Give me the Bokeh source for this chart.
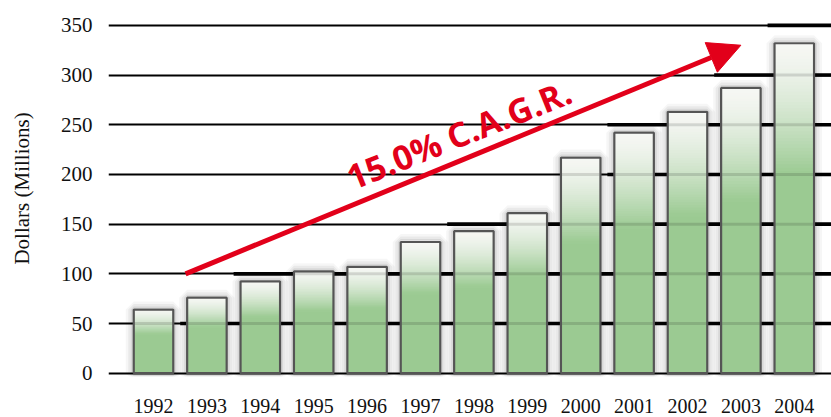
from bokeh.plotting import figure
from bokeh.models import Range1d, FixedTicker, Arrow, NormalHead, Label
from bokeh.embed import file_html
from bokeh.resources import INLINE

# Annual revenue, millions of dollars
years = [1992, 1993, 1994, 1995, 1996, 1997, 1998, 1999, 2000, 2001, 2002, 2003, 2004]
revenue = [64, 76, 92.5, 102.5, 107, 132, 143, 161, 217, 242, 263, 287, 332]
y_ticks = [0, 50, 100, 150, 200, 250, 300, 350]

# Growth annotation
cagr_label = "15.0% C.A.G.R."
arrow_x = [1992.6, 2003.0]
arrow_y = [100, 330]
label_x, label_y = 1997.72, 240.5

# Heavier gridline stretches begin at the gap before these years
heavy_from = {50: 1993, 100: 1994, 150: 1998, 200: 2001, 250: 2001, 300: 2003, 350: 2004}

RED = "#e2001a"
GREEN = (155, 202, 146)
PALE = (246, 247, 244)
BAR_W = 0.74
X0, X1 = 1991.157, 2004.697

p = figure(width=831, height=417, x_range=Range1d(X0, X1), y_range=Range1d(-3.3, 375.0),
           output_backend="svg", toolbar_location=None,
           min_border_left=108, min_border_right=0, min_border_top=0, min_border_bottom=41)
p.outline_line_color = None
p.background_fill_color = "white"
p.border_fill_color = "white"

# axes
p.xaxis.ticker = FixedTicker(ticks=years)
p.yaxis.ticker = FixedTicker(ticks=y_ticks)
for ax in (p.xaxis[0], p.yaxis[0]):
    ax.axis_line_color = None
    ax.major_tick_line_color = None
    ax.minor_tick_line_color = None
    ax.major_label_text_font = "Liberation Serif"
    ax.major_label_text_color = "#111111"
p.xaxis.major_label_text_font_size = "20px"
p.xaxis.major_label_standoff = 16
p.yaxis.major_label_text_font_size = "21px"
p.yaxis.major_label_standoff = 10
p.yaxis.axis_label = "Dollars (Millions)"
p.yaxis.axis_label_text_font = "Liberation Serif"
p.yaxis.axis_label_text_font_size = "21px"
p.yaxis.axis_label_text_font_style = "normal"
p.yaxis.axis_label_text_color = "#111111"
p.yaxis.axis_label_standoff = 24

# grid
p.xgrid.grid_line_color = None
p.ygrid.ticker = FixedTicker(ticks=y_ticks)
p.ygrid.grid_line_color = "black"
p.ygrid.grid_line_width = 1.8

hx0, hx1, hy = [], [], []
for lvl, yr in heavy_from.items():
    hx0.append(yr - 0.5)
    hx1.append(X1)
    hy.append(lvl)
p.segment(x0=hx0, x1=hx1, y0=hy, y1=hy, line_color="black", line_width=3.6)

# soft shadow around the bars
for w, a in [(16, 0.035), (11, 0.05), (6, 0.07)]:
    p.vbar(x=years, top=revenue, bottom=0, width=BAR_W, fill_color=None,
           line_color="black", line_alpha=a, line_width=w)

# bars: solid green body with a pale-to-green fade over the upper 40 %
FADE = 0.40
N = 40
L, R, T, B, C = [], [], [], [], []
for yr, v in zip(years, revenue):
    depth = v * FADE
    L.append(yr - BAR_W / 2); R.append(yr + BAR_W / 2)
    T.append(v - depth + 1.0); B.append(0)
    C.append("#%02x%02x%02x" % GREEN)
    for k in range(N):
        t = ((k + 0.5) / N) ** 1.5
        col = tuple(round(PALE[i] + (GREEN[i] - PALE[i]) * t) for i in range(3))
        L.append(yr - BAR_W / 2); R.append(yr + BAR_W / 2)
        T.append(v - depth * k / N + 1.0)
        B.append(v - depth * (k + 1) / N)
        C.append("#%02x%02x%02x" % col)
p.quad(left=L, right=R, top=T, bottom=B, fill_color=C, line_color=None)

# mask the slight overshoot above each bar, then outline
p.vbar(x=years, top=[v + 1.2 for v in revenue], bottom=revenue, width=BAR_W + 0.02,
       fill_color="white", line_color=None)
p.vbar(x=years, top=revenue, bottom=0, width=BAR_W, fill_color=None,
       line_color="#555555", line_width=2.2)

# faint gridline traces seen through the bars
gx0, gx1, gy = [], [], []
for yr, v in zip(years, revenue):
    for lvl in y_ticks[1:]:
        if lvl < v:
            gx0.append(yr - BAR_W / 2 + 0.02); gx1.append(yr + BAR_W / 2 - 0.02); gy.append(lvl)
p.segment(x0=gx0, x1=gx1, y0=gy, y1=gy, line_color="black", line_alpha=0.13, line_width=3)

# growth arrow and label
p.add_layout(Arrow(x_start=arrow_x[0], y_start=arrow_y[0], x_end=arrow_x[1], y_end=arrow_y[1],
                   line_color=RED, line_width=5,
                   end=NormalHead(size=32, fill_color=RED, line_color=RED, line_width=1)))
p.add_layout(Label(x=label_x, y=label_y, text=cagr_label, angle=21.8, angle_units="deg",
                   text_align="center", text_baseline="alphabetic",
                   text_font="Open Sans", text_font_style="bold", text_font_size="34px",
                   text_color=RED))

open("out.html", "w").write(file_html(p, INLINE))
